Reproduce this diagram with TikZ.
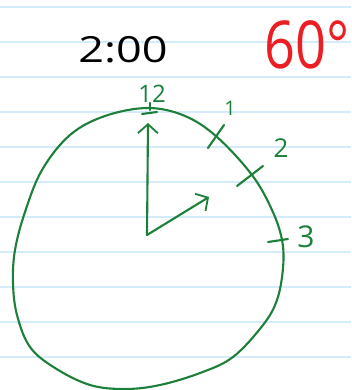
\documentclass[tikz,border=0pt]{standalone}
\usepackage{fontspec}
\setmainfont{Open Sans}
\usetikzlibrary{arrows.meta}
\definecolor{rule}{RGB}{212,236,250}
\definecolor{ink}{RGB}{28,128,58}
\definecolor{redink}{RGB}{235,30,35}
\tikzset{
  ruleline/.style={draw=rule, line width=1.6pt},
  clockline/.style={draw=ink, line width=2.1pt, line cap=round, line join=round},
  hand/.style={clockline, -{Straight Barb[length=9pt,width=20pt,line width=1.8pt]}},
  digit/.style={text=ink, inner sep=0pt},
}
\begin{document}
\begin{tikzpicture}[x=1pt,y=-1pt]
\useasboundingbox (0,0) rectangle (351,390);
\fill[white] (0,0) rectangle (351,390);
\foreach \y in {7,42,...,357} \draw[ruleline] (0,\y) -- (351,\y);
% clock face
\draw[clockline] plot[smooth cycle, tension=0.6] coordinates {
 (148,108) (185,116) (217,137) (252,175) (272,210) (282,240) (283,268)
 (277,300) (263,325) (233,357) (200,373) (160,385) (125,389) (90,385)
 (55,368) (30,347) (17,315) (13,283) (15,250) (25,212) (42,170) (70,135) (105,116)};
% ticks
\draw[clockline] (142,114) -- (157,112);
\draw[clockline] (150,103) -- (150,110);
\draw[clockline] (208,148) -- (224,125);
\draw[clockline] (237,186) -- (263,166);
\draw[clockline] (268,242) -- (288,239);
% hands
\coordinate (c) at (147,235);
\coordinate (h12) at (148,123);
\coordinate (h2) at (209,197);
\draw[hand] (c) -- (h12);
\draw[hand] (c) -- (h2);
% numbers
\node[digit, font=\fontsize{24}{24}\selectfont] (n12) at (152,94) {12};
\node[digit, font=\fontsize{20}{20}\selectfont] (n1) at (230,108) {1};
\node[digit, font=\fontsize{26}{26}\selectfont] (n2) at (281,148) {2};
\node[digit, font=\fontsize{30}{30}\selectfont] (n3) at (306,237) {3};
% titles
\node[inner sep=0pt, font=\fontsize{36}{36}\selectfont\addfontfeatures{FakeStretch=1.25}] (time) at (123,50) {2:00};
\node[inner sep=0pt, text=redink, font=\fontsize{66}{66}\selectfont\addfontfeatures{FakeStretch=0.82}] (deg) at (307,45) {60°};
\end{tikzpicture}
\end{document}
